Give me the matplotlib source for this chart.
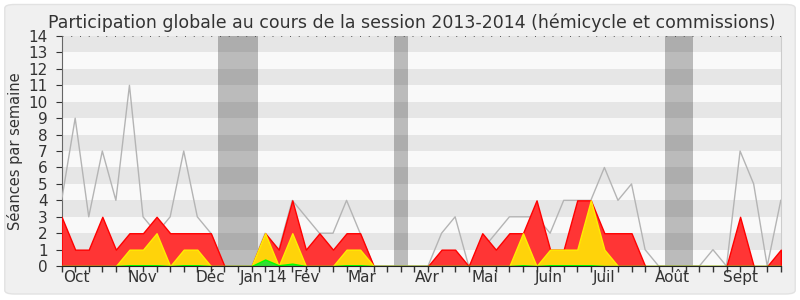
import matplotlib
matplotlib.use('Agg')
import matplotlib.pyplot as plt
from matplotlib.patches import FancyBboxPatch
import numpy as np

# weekly values, session 2013-2014 (54 weeks)
total = [4, 9, 3, 7, 4, 11, 3, 2, 3, 7, 3, 2, 0, 0, 0, 2, 1, 4, 3, 2,
         2, 4, 2, 0, 0, 0, 0, 0, 2, 3, 0, 1, 2, 3, 3, 3, 2, 4, 4, 4,
         6, 4, 5, 1, 0, 0, 0, 0, 1, 0, 7, 5, 0, 4]
red = [3, 1, 1, 3, 1, 2, 2, 3, 2, 2, 2, 2, 0, 0, 0, 2, 1, 4, 1, 2,
       1, 2, 2, 0, 0, 0, 0, 0, 1, 1, 0, 2, 1, 2, 2, 4, 1, 1, 4, 4,
       2, 2, 2, 0, 0, 0, 0, 0, 0, 0, 3, 0, 0, 1]
yellow = [0, 0, 0, 0, 0, 1, 1, 2, 0, 1, 1, 0, 0, 0, 0, 2, 0, 2, 0, 0,
          0, 1, 1, 0, 0, 0, 0, 0, 0, 0, 0, 0, 0, 0, 2, 0, 1, 1, 1, 4,
          1, 0, 0, 0, 0, 0, 0, 0, 0, 0, 0, 0, 0, 0]
green = [0, 0, 0, 0, 0, 0.05, 0.05, 0.05, 0, 0.05, 0.05, 0, 0, 0, 0, 0.4, 0.05, 0.15, 0, 0,
         0, 0.05, 0.05, 0, 0, 0, 0, 0, 0, 0, 0, 0, 0, 0, 0.05, 0, 0.05, 0.05, 0.05, 0.05,
         0, 0, 0, 0, 0, 0, 0, 0, 0, 0, 0, 0, 0, 0]
vacances = [(11.5, 14.5), (24.5, 25.5), (44.5, 46.5)]
mois = ['Oct', 'Nov', 'Déc', 'Jan 14', 'Fév', 'Mar', 'Avr', 'Mai', 'Juin', 'Juil', 'Août', 'Sept']
mois_pos = [1.1, 5.97, 10.96, 14.87, 18.09, 22.1, 26.96, 31.17, 35.93, 39.95, 45.05, 50.03]

weeks = np.arange(len(total))

fig = plt.figure(figsize=(8, 3), dpi=100, facecolor='white')
fig.patches.append(FancyBboxPatch((0.006, 0.02), 0.988, 0.965, boxstyle='round,pad=0,rounding_size=0.012',
                                  transform=fig.transFigure, facecolor='#f0f0f0',
                                  edgecolor='#e2e2e2', lw=1, zorder=-10))
ax = fig.add_axes([0.077, 0.113, 0.899, 0.767])
ax.set_facecolor('#f9f9f9')
ax.set_xlim(0, len(total) - 1)
ax.set_ylim(0, 14)

for a, b in vacances:
    ax.axvspan(a, b, color='#bbbbbb', lw=0, zorder=1)
for y in range(1, 14, 2):
    ax.axhspan(y, y + 1, color='black', alpha=0.075, lw=0, zorder=2)

ax.plot(weeks, total, color='#b4b4b4', lw=1, zorder=3)
ax.fill_between(weeks, 0, red, color='#ff3535', edgecolor='#ff0000', lw=1, zorder=4)
ax.fill_between(weeks, 0, yellow, color='#ffd30a', edgecolor='#ffee00', lw=1, zorder=5)
ax.fill_between(weeks, 0, green, color='#33dd33', edgecolor='#00ff00', lw=1, zorder=6)
ax.axhline(14, color='#555555', lw=0.7, ls=(0, (1, 8)), zorder=7)

ax.set_yticks(range(0, 15))
ax.set_xticks(weeks)
ax.set_xticklabels([])
ax.set_xticks(mois_pos, minor=True)
ax.set_xticklabels(mois, minor=True)
ax.tick_params(axis='x', which='major', length=4, width=1, color='#333333')
ax.tick_params(axis='x', which='minor', length=0, pad=3, labelsize=11, labelcolor='#333333')
ax.tick_params(axis='y', length=4, width=0.8, color='#333333', labelsize=11, labelcolor='#333333', pad=6)

ax.spines['top'].set_visible(False)
ax.spines['right'].set_color('#cccccc')
ax.spines['left'].set_color('#666666')
ax.spines['bottom'].set_color('#222222')
ax.spines['bottom'].set_zorder(8)

ax.set_ylabel('Séances par semaine', fontsize=10.5, color='#333333', labelpad=4)
fig.text(0.515, 0.925, 'Participation globale au cours de la session 2013-2014 (hémicycle et commissions)',
         ha='center', va='center', fontsize=12.5, color='#333333')

fig.savefig('out.png', dpi=100, facecolor=fig.get_facecolor())
